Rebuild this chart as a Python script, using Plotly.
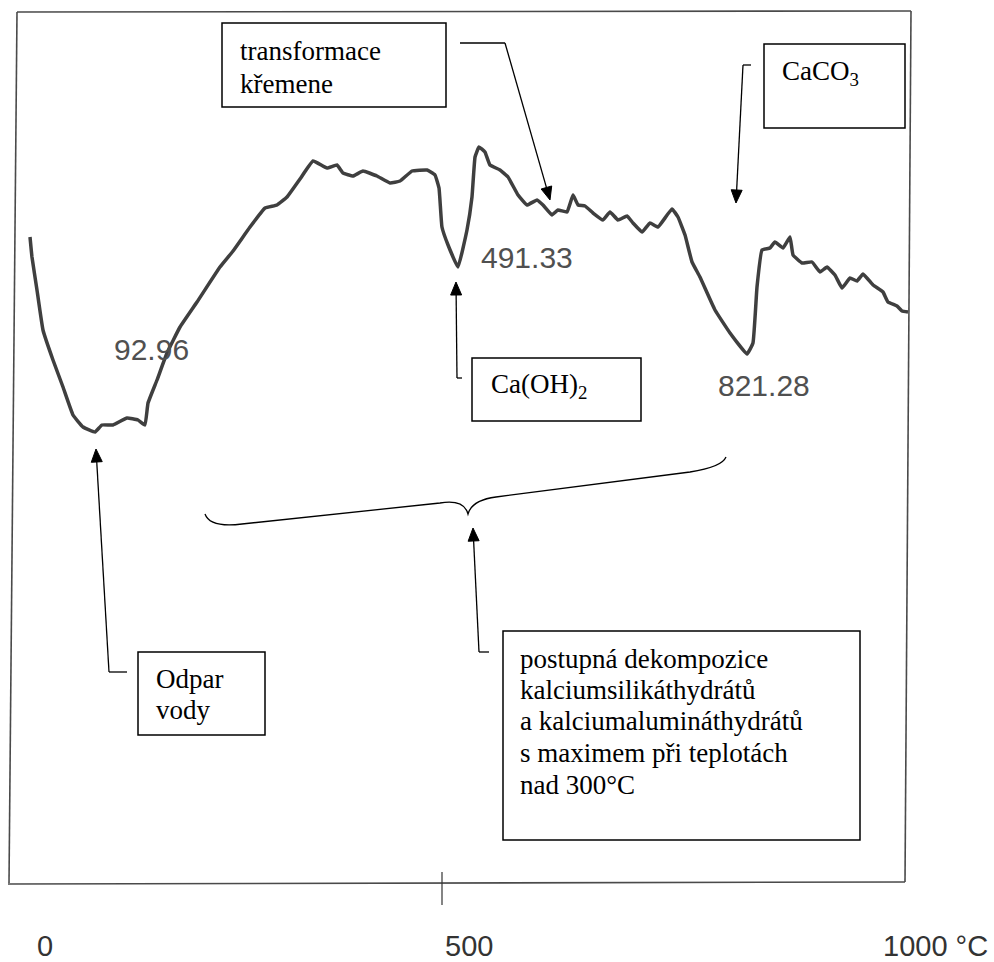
import math
import plotly.graph_objects as go

W, H = 994, 962

# ---- data (temperature in °C, DTA signal in arbitrary units) ----
temperature_c = [
    17.9, 20.1, 25.7, 32.4, 43.6, 54.8, 66.0, 77.2, 90.6, 98.4, 110.7, 126.4, 138.7, 146.5,
    149.9, 160.0, 171.1, 185.7, 204.7, 230.4, 245.0, 264.0, 280.8, 294.2, 305.4, 319.9,
    334.5, 350.1, 361.3, 368.0, 379.2, 390.4, 406.0, 420.6, 431.8, 445.2, 462.0, 470.9,
    475.4, 478.7, 485.5, 496.6, 506.7, 512.3, 515.7, 520.1, 526.8, 532.4, 543.6, 552.6,
    563.8, 573.8, 585.0, 591.7, 601.8, 608.5, 618.6, 625.3, 630.9, 638.7, 647.7, 658.8,
    666.7, 675.6, 685.7, 692.4, 702.5, 711.4, 720.4, 736.0, 742.7, 750.6, 758.4, 767.3,
    784.1, 800.9, 819.9, 826.6, 831.1, 836.7, 845.6, 851.2, 860.2, 868.0, 871.4, 881.4,
    892.6, 901.6, 909.4, 918.3, 926.2, 935.1, 943.0, 949.7, 960.9, 972.0, 977.6, 987.7,
    993.3, 1000.0,
]
dta_signal = [
    64.6, 62.6, 59.3, 55.3, 52.3, 49.6, 46.8, 45.6, 45.1, 45.8, 45.8, 46.5, 46.3, 45.8,
    48.0, 50.3, 53.0, 55.6, 58.1, 61.6, 63.2, 65.6, 67.5, 67.8, 68.6, 70.4,
    72.2, 71.5, 71.8, 71.0, 70.7, 71.2, 70.7, 70.0, 70.2, 71.2, 71.3, 70.8,
    69.5, 65.6, 63.8, 61.6, 65.3, 68.6, 72.6, 73.6, 73.1, 71.8, 71.3, 70.6,
    68.8, 67.8, 68.3, 67.8, 66.8, 67.3, 67.1, 68.8, 67.8, 67.7, 67.0, 66.3,
    67.1, 66.3, 66.7, 66.0, 65.1, 66.0, 65.6, 67.4, 66.6, 64.8, 62.1, 60.6,
    57.3, 55.0, 52.9, 54.0, 59.6, 63.3, 63.5, 64.1, 63.5, 64.6, 62.8, 62.0,
    62.1, 61.1, 61.6, 60.8, 59.5, 60.5, 60.2, 60.9, 59.8, 59.1, 58.1, 57.7,
    57.2, 57.1,
]

peak_labels = ["92.96", "491.33", "821.28"]
tick_labels = ["0", "500", "1000 °C"]
quartz_lines = ["transformace", "křemene"]
caco3_lines = ["CaCO<sub>3</sub>"]
caoh2_lines = ["Ca(OH)<sub>2</sub>"]
water_lines = ["Odpar", "vody"]
hydrate_lines = [
    "postupná dekompozice",
    "kalciumsilikáthydrátů",
    "a kalciumaluminátHydrátů".replace("H", "h"),
    "s maximem při teplotách",
    "nad 300°C",
]


def PX(x):
    return x / W


def PY(y):
    return 1 - y / H


fig = go.Figure()
fig.add_trace(go.Scatter(
    x=temperature_c, y=dta_signal, mode="lines",
    line=dict(color="#3f3f3f", width=3.5, shape="spline", smoothing=0.3),
    hoverinfo="skip", showlegend=False,
))

shapes = []


def line(x0, y0, x1, y1, color="#000000", width=1.3):
    shapes.append(dict(type="line", xref="paper", yref="paper",
                       x0=PX(x0), y0=PY(y0), x1=PX(x1), y1=PY(y1),
                       line=dict(color=color, width=width)))


def rect(x0, y0, x1, y1):
    shapes.append(dict(type="rect", xref="paper", yref="paper",
                       x0=PX(x0), y0=PY(y0), x1=PX(x1), y1=PY(y1),
                       line=dict(color="#000000", width=1.5), fillcolor="rgba(255,255,255,0)"))


def path_from(pts):
    s = ""
    for cmd, coords in pts:
        s += cmd + " " + " ".join(f"{PX(x):.5f},{PY(y):.5f}" for x, y in coords) + " "
    return s.strip()


def arrow(tx, ty, hx, hy, head_len=13, half_w=5.5):
    d = math.hypot(hx - tx, hy - ty)
    ux, uy = (hx - tx) / d, (hy - ty) / d
    bx, by = hx - ux * head_len, hy - uy * head_len
    line(tx, ty, bx + ux * 2, by + uy * 2)
    nx, ny = -uy, ux
    tri = path_from([
        ("M", [(hx, hy)]),
        ("L", [(bx + nx * half_w, by + ny * half_w)]),
        ("L", [(bx - nx * half_w, by - ny * half_w)]),
        ("Z", []),
    ])
    shapes.append(dict(type="path", xref="paper", yref="paper", path=tri,
                       fillcolor="#000000", line=dict(color="#000000", width=1)))


# frame of the scanned plot
frame_col = "#4a4a4a"
line(17, 12, 911, 11, frame_col, 1.6)
line(17, 12, 9, 883, frame_col, 1.6)
line(8, 884, 905, 882, frame_col, 1.6)
line(911, 11, 905, 882, frame_col, 1.6)
# tick at 500
line(442, 872, 442, 905, "#333333", 1.2)

# annotation boxes
rect(222, 23, 446, 107)
rect(764, 44, 905, 128)
rect(472, 358, 641, 421)
rect(138, 652, 265, 735)
rect(503, 631, 860, 840)

# connectors with arrows
line(460, 43, 505, 43)
arrow(505, 43, 550, 200)
line(751, 65, 743, 65)
arrow(743, 65, 736, 203)
line(462, 378, 457, 378)
arrow(457, 378, 456, 282)
line(127, 672, 109, 672)
arrow(109, 672, 96, 449)
line(489, 652, 479, 652)
arrow(479, 652, 473, 528)

brace = path_from([
    ("M", [(205, 514)]),
    ("Q", [(210, 528), (242, 524)]),
    ("L", [(440, 503)]),
    ("Q", [(464, 499), (468, 514)]),
    ("Q", [(472, 500), (496, 497)]),
    ("L", [(690, 472)]),
    ("Q", [(722, 467), (726, 457)]),
])
shapes.append(dict(type="path", xref="paper", yref="paper", path=brace,
                   line=dict(color="#000000", width=1.3)))

annotations = []
serif = "Liberation Serif, Times New Roman, serif"
sans = "Liberation Sans, Arial, sans-serif"


def text_lines(lines, x, ys, size=27):
    for t, y in zip(lines, ys):
        annotations.append(dict(
            xref="paper", yref="paper", x=PX(x), y=PY(y), text=t, showarrow=False,
            xanchor="left", yanchor="middle", font=dict(family=serif, size=size, color="#000000"),
        ))


text_lines(quartz_lines, 238, [51, 84])
text_lines(caco3_lines, 780, [73])
text_lines(caoh2_lines, 489, [386])
text_lines(water_lines, 154, [679, 710])
text_lines(hydrate_lines, 518, [659, 690, 721, 753, 785])

for t, (x, y) in zip(peak_labels, [(151, 349), (527, 258), (764, 386)]):
    annotations.append(dict(
        xref="paper", yref="paper", x=PX(x), y=PY(y), text=t, showarrow=False,
        xanchor="center", yanchor="middle", font=dict(family=sans, size=30, color="#505050"),
    ))

for t, (x, y) in zip(tick_labels, [(45, 946), (469, 946), (935, 946)]):
    annotations.append(dict(
        xref="paper", yref="paper", x=PX(x), y=PY(y), text=t, showarrow=False,
        xanchor="center", yanchor="middle", font=dict(family=sans, size=29, color="#333333"),
    ))

# axis ranges so that the frame (x: 14..908 px) spans 0..1000 °C
x_min, x_max = -15.66, 1096.2
y_min, y_max = -7.9, 88.3

fig.update_layout(
    width=W, height=H, margin=dict(l=0, r=0, t=0, b=0),
    paper_bgcolor="white", plot_bgcolor="white",
    xaxis=dict(range=[x_min, x_max], visible=False, fixedrange=True),
    yaxis=dict(range=[y_min, y_max], visible=False, fixedrange=True),
    shapes=shapes, annotations=annotations, showlegend=False,
)

fig.write_html(
    "out.html",
    config={"displayModeBar": False},
    post_script="document.body.style.margin='0';document.body.style.overflow='hidden';",
)
